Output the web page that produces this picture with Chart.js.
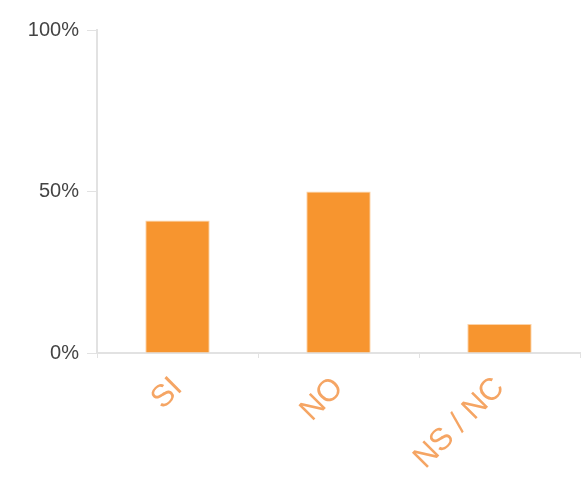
<!DOCTYPE html>
<html>
<head>
<meta charset="utf-8">
<script src="https://cdn.jsdelivr.net/npm/chart.js@4/dist/chart.umd.min.js"></script>
<style>
  html, body { margin: 0; padding: 0; background: #fff; }
  #wrap { width: 586px; height: 485px; }
</style>
</head>
<body>
<div id="wrap"><canvas id="barChart"></canvas></div>
<script>
// respostas (% do total)
const categorias = ["SI", "NO", "NS / NC"];
const porcentagens = [41, 50, 9];
const ticksY = [0, 50, 100];

const laranja = "#f7952f";
const cinzaEixo = "#e2e2e2";

const ctx = document.getElementById("barChart").getContext("2d");

new Chart(ctx, {
  type: "bar",
  data: {
    labels: categorias,
    datasets: [{
      data: porcentagens,
      backgroundColor: laranja,
      borderColor: "#fcd3a8",
      borderWidth: 1,
      categoryPercentage: 1,
      barPercentage: 0.4
    }]
  },
  options: {
    responsive: true,
    maintainAspectRatio: false,
    animation: false,
    layout: { padding: { top: 30, right: 6, left: 0, bottom: 0 } },
    plugins: {
      legend: { display: false },
      tooltip: { enabled: false }
    },
    scales: {
      x: {
        grid: { offset: true, drawOnChartArea: false, color: cinzaEixo, tickLength: 5 },
        border: { color: cinzaEixo, width: 2 },
        ticks: {
          color: "#f5a564",
          font: { family: "Liberation Sans", size: 31 },
          minRotation: 45,
          maxRotation: 45,
          padding: 12
        },
        afterFit: (scale) => { scale.height = 132; }
      },
      y: {
        min: 0,
        max: 100,
        afterBuildTicks: (scale) => { scale.ticks = ticksY.map(v => ({ value: v })); },
        grid: { drawOnChartArea: false, color: cinzaEixo, tickLength: 10 },
        border: { color: cinzaEixo, width: 2 },
        ticks: {
          color: "#444",
          font: { family: "Liberation Sans", size: 20 },
          padding: 8,
          callback: (v) => v + "%"
        },
        afterFit: (scale) => { scale.width = 97; }
      }
    }
  }
});
</script>
</body>
</html>
